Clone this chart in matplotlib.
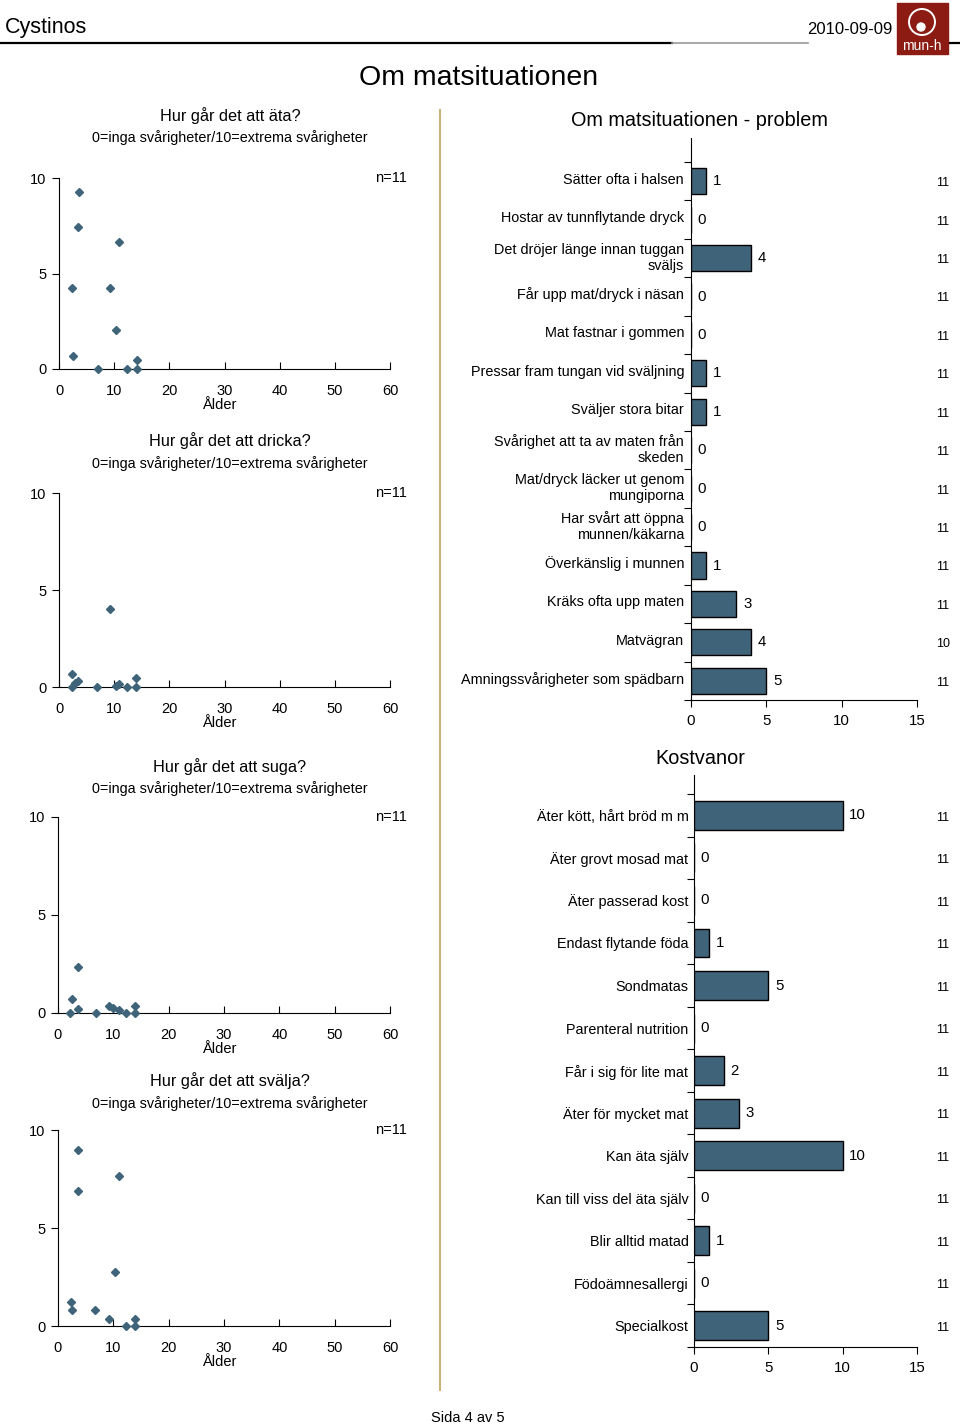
import matplotlib
matplotlib.use('Agg')
import matplotlib.pyplot as plt
from matplotlib.patches import Rectangle, Ellipse
from matplotlib.lines import Line2D

plt.rcParams['font.family'] = ['Liberation Sans', 'DejaVu Sans']

W, H = 960, 1425
BAR = '#3F6479'
SEP = '#C9B27C'

# ---------------- data ----------------
eat_age = [3.6, 3.4, 10.9, 2.4, 9.2, 10.4, 2.6, 7.1, 12.3, 14.1, 14.1]
eat_val = [9.25, 7.45, 6.66, 4.22, 4.22, 2.06, 0.7, 0, 0, 0, 0.45]

drink_age = [2.4, 2.4, 2.9, 3.5, 6.8, 9.2, 10.4, 10.9, 12.3, 14.0, 14.0]
drink_val = [0.65, 0, 0.2, 0.33, 0, 4.04, 0.07, 0.15, 0, 0, 0.48]

suck_age = [3.6, 2.5, 2.2, 3.6, 6.9, 9.2, 10.0, 11.0, 12.2, 14.0, 14.0]
suck_val = [2.36, 0.71, 0, 0.2, 0, 0.36, 0.27, 0.17, 0, 0, 0.36]

swallow_age = [3.6, 3.6, 11.0, 10.3, 2.3, 2.5, 6.7, 9.3, 12.3, 14.0, 14.0]
swallow_val = [9.0, 6.87, 7.67, 2.77, 1.21, 0.8, 0.8, 0.34, 0, 0, 0.34]

scatter_titles = ["Hur går det att äta?", "Hur går det att dricka?",
                  "Hur går det att suga?", "Hur går det att svälja?"]
scatter_sub = "0=inga svårigheter/10=extrema svårigheter"
scatter_n = ["n=11", "n=11", "n=11", "n=11"]

prob_labels = ["Sätter ofta i halsen", "Hostar av tunnflytande dryck",
               "Det dröjer länge innan tuggan\nsväljs", "Får upp mat/dryck i näsan",
               "Mat fastnar i gommen", "Pressar fram tungan vid sväljning",
               "Sväljer stora bitar", "Svårighet att ta av maten från\nskeden",
               "Mat/dryck läcker ut genom\nmungiporna", "Har svårt att öppna\nmunnen/käkarna",
               "Överkänslig i munnen", "Kräks ofta upp maten", "Matvägran",
               "Amningssvårigheter som spädbarn"]
prob_vals = [1, 0, 4, 0, 0, 1, 1, 0, 0, 0, 1, 3, 4, 5]
prob_n = [11, 11, 11, 11, 11, 11, 11, 11, 11, 11, 11, 11, 10, 11]

kost_labels = ["Äter kött, hårt bröd m m", "Äter grovt mosad mat", "Äter passerad kost",
               "Endast flytande föda", "Sondmatas", "Parenteral nutrition",
               "Får i sig för lite mat", "Äter för mycket mat", "Kan äta själv",
               "Kan till viss del äta själv", "Blir alltid matad", "Födoämnesallergi",
               "Specialkost"]
kost_vals = [10, 0, 0, 1, 5, 0, 2, 3, 10, 0, 1, 0, 5]
kost_n = [11, 11, 11, 11, 11, 11, 11, 11, 11, 11, 11, 11, 11]

bar_ticks = [0, 5, 10, 15]
sc_xticks = [0, 10, 20, 30, 40, 50, 60]
sc_yticks = [0, 5, 10]

# ---------------- helpers ----------------
fig = plt.figure(figsize=(W / 100, H / 100), dpi=100)


def fx(px):
    return px / W


def fy(py):
    return 1 - py / H


def axes_px(x0, y0, x1, y1):
    return fig.add_axes([fx(x0), fy(y1), (x1 - x0) / W, (y1 - y0) / H])


def ftext(px, py, s, **kw):
    kw.setdefault('ha', 'center')
    kw.setdefault('va', 'center')
    fig.text(fx(px), fy(py), s, **kw)


# ---------------- header ----------------
ftext(5, 27, "Cystinos", ha='left', fontsize=15.5)
ftext(893, 30, "2010-09-09", ha='right', fontsize=12)
fig.add_artist(Line2D([fx(0), fx(672)], [fy(43), fy(43)], color='black', lw=1.6))
fig.add_artist(Line2D([fx(672), fx(808)], [fy(43), fy(43)], color='#999999', lw=1.2))
fig.add_artist(Line2D([fx(950), fx(960)], [fy(43), fy(43)], color='black', lw=1.6))
fig.add_artist(Rectangle((fx(897), fy(54)), 51 / W, 51 / H, color='#8C1C13'))
fig.add_artist(Ellipse((fx(922), fy(22)), 26 / W, 26 / H, fill=False, ec='white', lw=1.4))
fig.add_artist(Ellipse((fx(921), fy(27)), 8 / W, 8 / H, color='white'))
ftext(922, 46, "mun-h", color='white', fontsize=10)

ftext(479, 78, "Om matsituationen", fontsize=20.5)
fig.add_artist(Line2D([fx(440), fx(440)], [fy(110), fy(1390)], color=SEP, lw=1.5))
ftext(468, 1418, "Sida 4 av 5", fontsize=10.5)

# ---------------- scatters ----------------
sc_data = [(eat_age, eat_val), (drink_age, drink_val),
           (suck_age, suck_val), (swallow_age, swallow_val)]
sc_boxes = [(59, 178, 390, 369), (59, 493, 390, 687),
            (58, 817, 390, 1013), (58, 1130, 390, 1326)]
sc_title_y = [116, 441, 767, 1081]
sc_sub_y = [138, 464, 789, 1104]

for i, ((ax_x, ax_y), box) in enumerate(zip(sc_data, sc_boxes)):
    ax = axes_px(*box)
    ax.plot(ax_x, ax_y, 'D', color=BAR, ms=4.3, clip_on=False, zorder=5)
    ax.set_xlim(0, 60)
    ax.set_ylim(0, 10)
    ax.set_xticks(sc_xticks)
    ax.set_yticks(sc_yticks)
    ax.spines['top'].set_visible(False)
    ax.spines['right'].set_visible(False)
    ax.tick_params(axis='x', direction='in', length=5, pad=11, labelsize=10.5)
    ax.tick_params(axis='y', direction='out', length=5, pad=4, labelsize=10.5)
    ax.patch.set_alpha(0)
    ftext(407, box[1], scatter_n[i], ha='right', fontsize=10.5)
    ftext(230, sc_title_y[i], scatter_titles[i], fontsize=11.7)
    ftext(230, sc_sub_y[i], scatter_sub, fontsize=10.4)
    ftext(219, box[3] + 36, "Ålder", fontsize=10.5)


# ---------------- bar charts ----------------
def bar_chart(box, labels, vals, ns, top_extra, title, title_xy, label_pad, lab_shift):
    ax = axes_px(*box)
    pos = list(range(len(labels)))
    ax.barh(pos, vals, height=0.68, color=BAR, edgecolor='black', linewidth=1.0, zorder=3)
    ax.set_xlim(0, 15)
    ax.set_ylim(len(labels) - 0.5, -0.5 - top_extra)
    ax.set_xticks(bar_ticks)
    ax.set_yticks([p - 0.5 for p in pos] + [len(labels) - 0.5])
    ax.set_yticklabels([])
    ax.set_yticks([p - lab_shift for p in pos], minor=True)
    ax.set_yticklabels(labels, minor=True, fontsize=10.4)
    ax.tick_params(axis='y', which='minor', length=0, pad=label_pad)
    ax.tick_params(axis='y', which='major', direction='out', length=5)
    ax.tick_params(axis='x', direction='out', length=5, pad=5, labelsize=10.8)
    for s in ('top', 'right'):
        ax.spines[s].set_visible(False)
    ax.patch.set_alpha(0)
    for p, v, n in zip(pos, vals, ns):
        ax.text(v + 0.45, p, str(v), va='center', ha='left', fontsize=10.8, clip_on=False)
        ax.text(16.7, p + 0.05, str(n), va='center', ha='center', fontsize=9, clip_on=False)
    ftext(title_xy[0], title_xy[1], title, fontsize=14.3)
    return ax


bar_chart((691, 138, 917, 700), prob_labels, prob_vals, prob_n, 0.625,
          "Om matsituationen - problem", (699, 121), 5, 0.08)
bar_chart((694, 775, 917, 1347), kost_labels, kost_vals, kost_n, 0.45,
          "Kostvanor", (700, 758), 4, 0.0)

fig.savefig('out.png', dpi=100)
